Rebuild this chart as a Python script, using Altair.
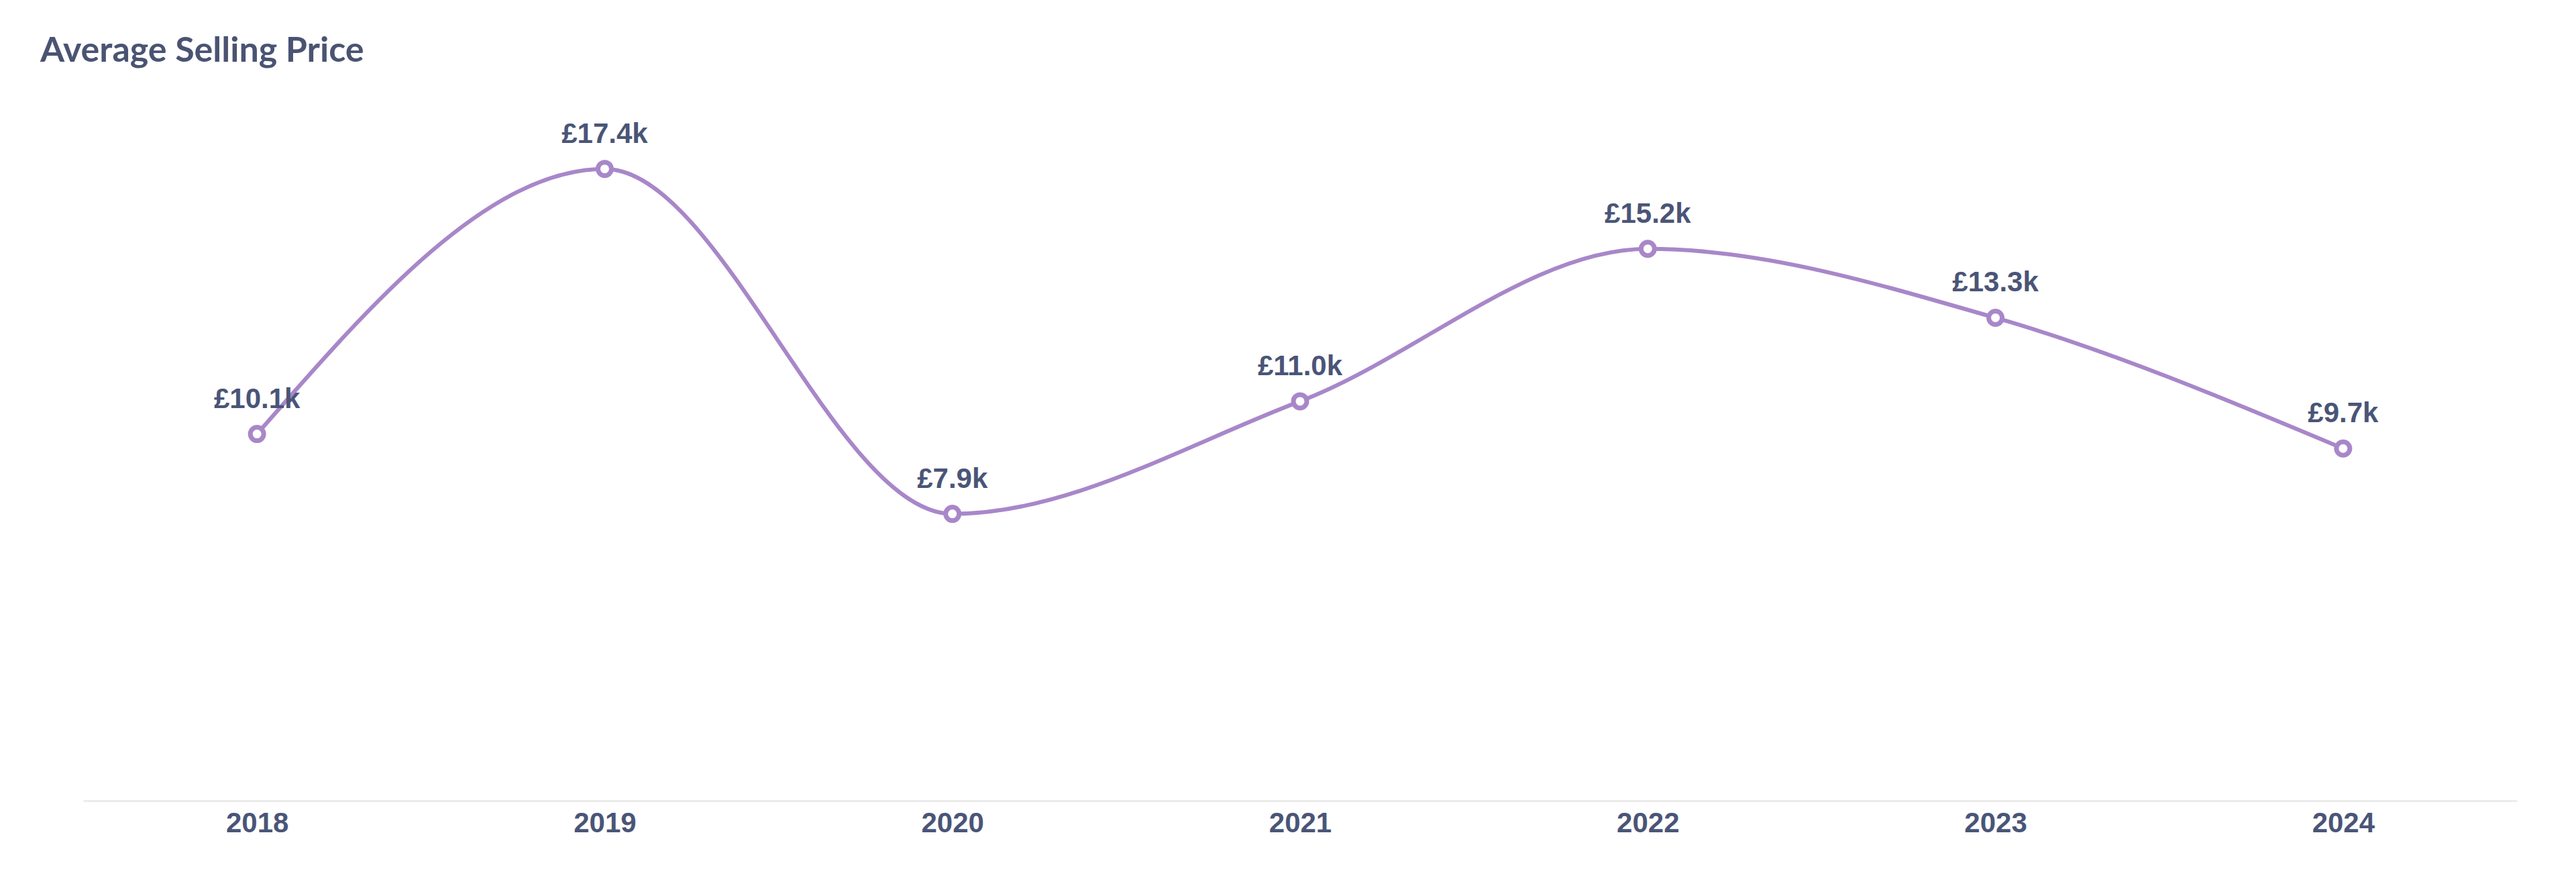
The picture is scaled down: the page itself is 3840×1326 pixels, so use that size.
import altair as alt
import pandas as pd

years = ["2018", "2019", "2020", "2021", "2022", "2023", "2024"]
prices = [10100, 17400, 7900, 11000, 15200, 13300, 9700]

df = pd.DataFrame({"year": years, "price": prices})
df["label"] = ["£{:.1f}k".format(v / 1000) for v in prices]

LINE = "#a887c9"
TEXT = "#4a5577"

x = alt.X("year:O", scale=alt.Scale(type="point", padding=0.5),
          axis=alt.Axis(title=None, labelAngle=0, ticks=False, grid=False,
                        domainColor="#ebebeb", domainWidth=3,
                        labelFont="Liberation Sans", labelFontWeight="bold",
                        labelFontSize=42, labelColor=TEXT, labelPadding=13))
y = alt.Y("price:Q", scale=alt.Scale(domain=[0, 20000], nice=False), axis=None)

line = alt.Chart(df).mark_line(interpolate="monotone", color=LINE, strokeWidth=6).encode(x=x, y=y)
pts = alt.Chart(df).mark_point(shape="circle", filled=True, fill="white", stroke=LINE,
                               strokeWidth=7, size=400, opacity=1).encode(x=x, y=y)
txt = alt.Chart(df).mark_text(font="Liberation Sans", fontWeight="bold", fontSize=42,
                              color=TEXT, baseline="alphabetic", dy=-39).encode(
    x=x, y=y, text="label:N")

chart = alt.layer(line, pts, txt).properties(
    width=3628, height=1082,
    padding={"left": 116, "top": 103, "right": 80, "bottom": 100},
    autosize=alt.AutoSizeParams(type="none"),
    title=alt.TitleParams("Average Selling Price", anchor="start", font="Lato",
                          fontWeight="bold", fontSize=52, color="#4a5472",
                          dx=-64, offset=8, frame="group"),
).configure_view(stroke=None)

chart.save("out.html", embed_options={"renderer": "svg", "actions": False})
